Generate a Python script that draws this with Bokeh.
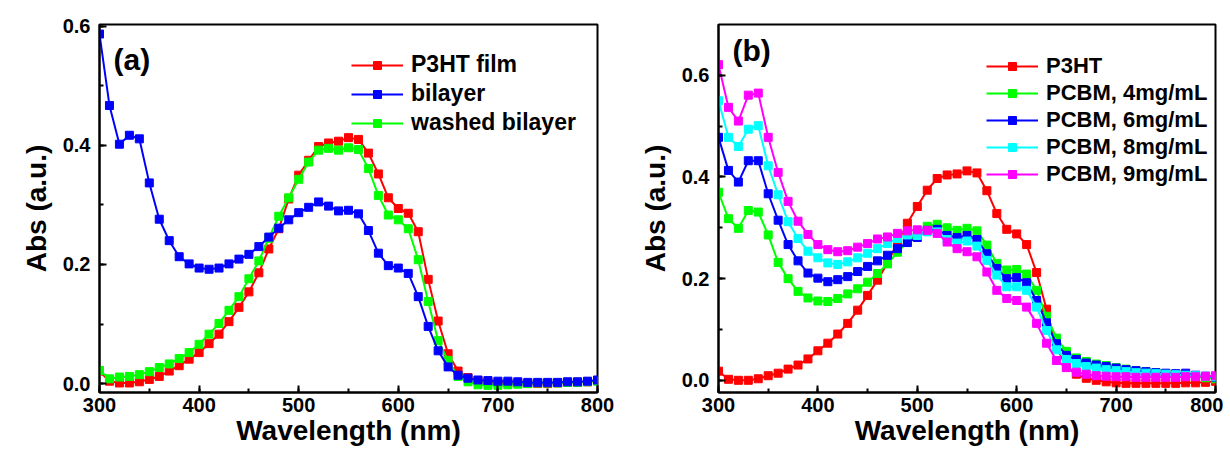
from bokeh.plotting import figure
from bokeh.layouts import row
from bokeh.models import (Legend, LegendItem, Label, SingleIntervalTicker,
                          PrintfTickFormatter, Range1d)
from bokeh.embed import file_html
from bokeh.resources import INLINE

# ---------------- data ----------------
wavelength = list(range(300, 801, 10))

# panel (a)
p3ht_film = [0.021, 0.004, 0.001, 0.001, 0.003, 0.007, 0.012, 0.021, 0.030, 0.041,
             0.052, 0.067, 0.083, 0.104, 0.128, 0.154, 0.186, 0.226, 0.260, 0.310,
             0.350, 0.375, 0.398, 0.404, 0.407, 0.413, 0.410, 0.387, 0.352, 0.312,
             0.294, 0.286, 0.255, 0.175, 0.105, 0.050, 0.021, 0.010, 0.005, 0.003,
             0.001, 0.001, 0.000, 0.000, 0.000, 0.000, 0.001, 0.002, 0.002, 0.003,
             0.005]
bilayer = [0.587, 0.467, 0.402, 0.417, 0.411, 0.337, 0.276, 0.240, 0.213, 0.201,
           0.194, 0.192, 0.194, 0.201, 0.209, 0.217, 0.230, 0.246, 0.261, 0.275,
           0.287, 0.296, 0.305, 0.298, 0.290, 0.291, 0.285, 0.257, 0.219, 0.198,
           0.194, 0.185, 0.146, 0.096, 0.055, 0.028, 0.014, 0.009, 0.006, 0.005,
           0.004, 0.004, 0.003, 0.002, 0.002, 0.002, 0.002, 0.003, 0.003, 0.004,
           0.006]
washed_bilayer = [0.022, 0.008, 0.011, 0.012, 0.015, 0.020, 0.027, 0.033, 0.042, 0.052,
                  0.066, 0.083, 0.101, 0.123, 0.146, 0.176, 0.206, 0.244, 0.281, 0.312,
                  0.343, 0.372, 0.392, 0.395, 0.392, 0.396, 0.393, 0.361, 0.316, 0.283,
                  0.275, 0.260, 0.208, 0.138, 0.072, 0.039, 0.012, 0.003, -0.002, -0.003,
                  -0.003, -0.002, -0.001, 0.000, 0.001, 0.001, 0.001, 0.002, 0.002, 0.003,
                  0.004]

# panel (b)
p3ht = [0.018, 0.002, 0.000, 0.000, 0.003, 0.009, 0.014, 0.022, 0.030, 0.042,
        0.058, 0.073, 0.091, 0.112, 0.138, 0.167, 0.197, 0.231, 0.270, 0.309,
        0.342, 0.374, 0.397, 0.404, 0.406, 0.412, 0.408, 0.373, 0.328, 0.297,
        0.288, 0.267, 0.212, 0.140, 0.066, 0.026, 0.012, 0.004, 0.000, -0.003,
        -0.005, -0.006, -0.006, -0.006, -0.006, -0.006, -0.006, -0.005, -0.005, -0.004,
        -0.002]
pcbm_4 = [0.370, 0.318, 0.299, 0.334, 0.331, 0.286, 0.232, 0.200, 0.175, 0.162,
          0.156, 0.155, 0.161, 0.170, 0.180, 0.193, 0.210, 0.229, 0.252, 0.272,
          0.288, 0.303, 0.307, 0.300, 0.295, 0.299, 0.294, 0.266, 0.230, 0.217,
          0.218, 0.209, 0.177, 0.126, 0.083, 0.057, 0.044, 0.037, 0.032, 0.029,
          0.025, 0.022, 0.019, 0.017, 0.015, 0.013, 0.012, 0.010, 0.008, 0.005,
          0.003]
pcbm_6 = [0.478, 0.413, 0.390, 0.432, 0.432, 0.367, 0.315, 0.267, 0.235, 0.211,
          0.201, 0.194, 0.198, 0.204, 0.214, 0.224, 0.235, 0.246, 0.259, 0.271,
          0.281, 0.295, 0.297, 0.285, 0.281, 0.285, 0.277, 0.249, 0.220, 0.200,
          0.202, 0.192, 0.157, 0.113, 0.072, 0.049, 0.041, 0.034, 0.030, 0.027,
          0.024, 0.021, 0.019, 0.017, 0.015, 0.014, 0.013, 0.014, 0.010, 0.008,
          0.006]
pcbm_8 = [0.550, 0.478, 0.460, 0.494, 0.501, 0.422, 0.365, 0.312, 0.279, 0.254,
          0.241, 0.231, 0.228, 0.233, 0.241, 0.250, 0.259, 0.269, 0.279, 0.286,
          0.285, 0.292, 0.292, 0.277, 0.270, 0.274, 0.264, 0.236, 0.207, 0.184,
          0.184, 0.177, 0.144, 0.098, 0.060, 0.041, 0.033, 0.027, 0.024, 0.021,
          0.019, 0.017, 0.015, 0.014, 0.013, 0.012, 0.011, 0.010, 0.009, 0.008,
          0.007]
pcbm_9 = [0.621, 0.537, 0.510, 0.561, 0.565, 0.478, 0.409, 0.352, 0.313, 0.287,
          0.267, 0.257, 0.253, 0.255, 0.262, 0.269, 0.278, 0.282, 0.289, 0.294,
          0.296, 0.295, 0.289, 0.272, 0.259, 0.253, 0.243, 0.213, 0.177, 0.161,
          0.157, 0.144, 0.112, 0.073, 0.039, 0.025, 0.016, 0.012, 0.009, 0.008,
          0.007, 0.007, 0.006, 0.006, 0.006, 0.006, 0.006, 0.007, 0.007, 0.008,
          0.009]

labels_a = ["P3HT film", "bilayer", "washed bilayer"]
labels_b = ["P3HT", "PCBM, 4mg/mL", "PCBM, 6mg/mL", "PCBM, 8mg/mL", "PCBM, 9mg/mL"]
x_title = "Wavelength (nm)"
y_title = "Abs (a.u.)"

FONT = "Liberation Sans"


def make_fig(width, border_left, border_right, y_range, letter, letter_top):
    p = figure(width=width, height=449, output_backend="svg", toolbar_location=None,
               x_range=Range1d(300, 800), y_range=Range1d(*y_range),
               min_border_left=border_left, min_border_right=border_right,
               min_border_top=24, min_border_bottom=57)
    p.background_fill_color = "white"
    p.border_fill_color = "white"
    p.outline_line_color = "black"
    p.outline_line_width = 2
    p.xgrid.visible = False
    p.ygrid.visible = False
    p.xaxis.ticker = SingleIntervalTicker(interval=100, num_minor_ticks=2)
    p.yaxis.ticker = SingleIntervalTicker(interval=0.2, num_minor_ticks=2)
    p.yaxis.formatter = PrintfTickFormatter(format="%.1f")
    for ax in (p.xaxis, p.yaxis):
        ax.axis_line_width = 2
        ax.major_tick_in = 7
        ax.major_tick_out = 0
        ax.minor_tick_in = 4
        ax.minor_tick_out = 0
        ax.major_tick_line_width = 2
        ax.minor_tick_line_width = 2
        ax.major_label_text_font = FONT
        ax.major_label_text_font_style = "bold"
        ax.major_label_text_font_size = "20px"
        ax.major_label_text_color = "black"
        ax.axis_label_text_font = FONT
        ax.axis_label_text_font_style = "bold"
        ax.axis_label_text_font_size = "28px"
        ax.axis_label_text_color = "black"
    p.xaxis.axis_label = x_title
    p.yaxis.axis_label = y_title
    p.xaxis.major_label_standoff = 5
    p.xaxis.axis_label_standoff = 0
    p.yaxis.major_label_standoff = 9
    p.yaxis.axis_label_standoff = 8
    p.add_layout(Label(x=14, y=368 - letter_top, x_units="screen", y_units="screen",
                       text=letter, text_font=FONT, text_font_style="bold",
                       text_font_size="30px", text_baseline="top", text_color="black"))
    return p


def add_series(p, ys, color):
    ln = p.line(wavelength, ys, line_color=color, line_width=2)
    sc = p.scatter(wavelength, ys, marker="square", size=8, fill_color=color,
                   line_color=color)
    return [ln, sc]


def add_legend(p, items, x, y, spacing, font_size):
    lg = Legend(items=items, location=(x, y), padding=0, margin=0,
                spacing=spacing, glyph_width=52, glyph_height=20, label_standoff=8,
                label_height=20,
                label_text_font=FONT, label_text_font_style="bold",
                label_text_font_size=font_size, label_text_color="black",
                border_line_alpha=0, background_fill_alpha=0)
    p.add_layout(lg)


# panel (a): draw red, green, then blue on top; legend keeps original order
pa = make_fig(617, 99, 20, (-0.015, 0.603), "(a)", 18)
colors_a = ["#FF0000", "#0000FF", "#00FF00"]
series_a = [p3ht_film, bilayer, washed_bilayer]
rend_a = {}
for idx in (0, 2, 1):
    rend_a[idx] = add_series(pa, series_a[idx], colors_a[idx])
items_a = [LegendItem(label=labels_a[i], renderers=rend_a[i]) for i in range(3)]
add_legend(pa, items_a, 252, 256, 2, "23px")

# panel (b)
pb = make_fig(606, 101, 8, (-0.024, 0.70), "(b)", 9)
colors_b = ["#FF0000", "#00FF00", "#0000FF", "#00FFFF", "#FF00FF"]
series_b = [p3ht, pcbm_4, pcbm_6, pcbm_8, pcbm_9]
items_b = []
for lab, ys, c in zip(labels_b, series_b, colors_b):
    items_b.append(LegendItem(label=lab, renderers=add_series(pb, ys, c)))
add_legend(pb, items_b, 268, 205, 1, "22px")

layout = row(pa, pb)
open("out.html", "w").write(file_html(layout, INLINE))
